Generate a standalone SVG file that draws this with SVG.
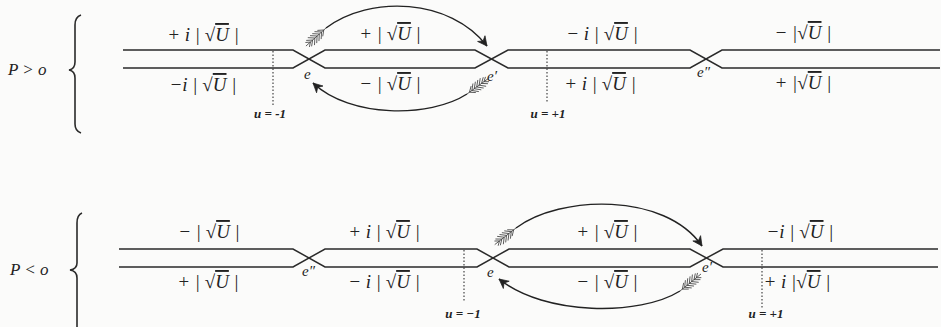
<svg xmlns="http://www.w3.org/2000/svg" xmlns:xlink="http://www.w3.org/1999/xlink" width="941" height="327" viewBox="0 0 941 327">
<style>
.bg{fill:#fbfbfa}
.ln{fill:none;stroke:#2a2a2a;stroke-width:1.5}
.dot{fill:none;stroke:#333;stroke-width:1.1;stroke-dasharray:1.5 2}
.br{fill:none;stroke:#2a2a2a;stroke-width:1.6}
.arc{fill:none;stroke:#222;stroke-width:1.4}
text{font-family:'Liberation Serif','DejaVu Serif','Times New Roman',serif;font-style:italic;fill:#222}
.lab{font-size:19px;text-anchor:middle}
.ov{text-decoration:overline}
.pt{font-size:15px}
.u{font-weight:bold;font-size:13px;text-anchor:middle}
.P{font-size:17px}
.fb{stroke:#444;stroke-width:0.8;fill:none}
</style>
<defs>
<marker id="ah" markerUnits="userSpaceOnUse" markerWidth="14" markerHeight="14" refX="0" refY="0" viewBox="-10 -6 11 12" orient="auto">
<path d="M-8,-4 L0,0 L-8,4 L-5.5,0 Z" fill="#222" stroke="#222" stroke-width="0.6"/>
</marker>
<g id="feather" class="fb">
<line x1="0" y1="0" x2="27" y2="0"/>
<path d="M3,0 l5,-4 M3,0 l5,4 M6,0 l5,-5 M6,0 l5,5 M9,0 l5,-5 M9,0 l5,5 M12,0 l5,-5 M12,0 l5,5 M15,0 l5,-5 M15,0 l5,5 M18,0 l5,-4 M18,0 l5,4 M21,0 l4,-3 M21,0 l4,3"/>
</g>
</defs>
<rect class="bg" x="0" y="0" width="941" height="327"/>

<g id="top-case">
<text class="P" x="8" y="75">P &gt; o</text>
<path class="br" d="M81 15 Q75 17 75 25 L75 62 Q75 69 69 70 Q75 71 75 78 L75 124 Q75 131 81 133"/>
</g>

<g id="top-lines">
<path class="ln" d="M123 50 H293 L325 68 H475 L508 50 H690 L722 68 H940"/>
<path class="ln" d="M123 68 H293 L325 50 H475 L508 68 H690 L722 50 H940"/>
<line class="dot" x1="273" y1="51" x2="273" y2="105"/>
<line class="dot" x1="547" y1="51" x2="547" y2="103"/>
<text class="u" x="270" y="118">u = -1</text>
<text class="u" x="548" y="118">u = +1</text>
</g>

<g id="top-labels">
<text class="lab" x="203" y="41">+ i | √<tspan class="ov">U</tspan> |</text>
<text class="lab" x="203" y="91">−i | √<tspan class="ov">U</tspan> |</text>
<text class="lab" x="390" y="40">+ | √<tspan class="ov">U</tspan> |</text>
<text class="lab" x="390" y="90">− | √<tspan class="ov">U</tspan> |</text>
<text class="lab" x="602" y="40">− i | √<tspan class="ov">U</tspan> |</text>
<text class="lab" x="600" y="90">+ i | √<tspan class="ov">U</tspan> |</text>
<text class="lab" x="803" y="39">− |√<tspan class="ov">U</tspan> |</text>
<text class="lab" x="803" y="89">+ |√<tspan class="ov">U</tspan> |</text>
</g>

<g id="node-top-e"><text class="pt" x="304" y="79">e</text></g>
<g id="node-top-e1"><text class="pt" x="487" y="81">e′</text></g>
<g id="node-top-e2"><text class="pt" x="697" y="77">e″</text></g>

<g id="bottom-case">
<text class="P" x="10" y="275">P &lt; o</text>
<path class="br" d="M82 213 Q77 215 77 223 L77 263 Q77 269 70 270 Q77 271 77 278 L77 327"/>
</g>

<g id="bottom-lines">
<path class="ln" d="M119 249 H293 L325 267 H477 L509 249 H690 L723 267 H938"/>
<path class="ln" d="M119 267 H293 L325 249 H477 L509 267 H690 L723 249 H938"/>
<line class="dot" x1="464" y1="250" x2="464" y2="302"/>
<line class="dot" x1="762" y1="250" x2="762" y2="308"/>
<text class="u" x="463" y="318">u = −1</text>
<text class="u" x="766" y="318">u = +1</text>
</g>

<g id="bottom-labels">
<text class="lab" x="209" y="238">− | √<tspan class="ov">U</tspan> |</text>
<text class="lab" x="208" y="288">+ | √<tspan class="ov">U</tspan> |</text>
<text class="lab" x="384" y="238">+ i | √<tspan class="ov">U</tspan> |</text>
<text class="lab" x="384" y="288">− i | √<tspan class="ov">U</tspan> |</text>
<text class="lab" x="607" y="238">+ | √<tspan class="ov">U</tspan> |</text>
<text class="lab" x="607" y="288">− | √<tspan class="ov">U</tspan> |</text>
<text class="lab" x="800" y="238">−i | √<tspan class="ov">U</tspan> |</text>
<text class="lab" x="797" y="288">+ i |√<tspan class="ov">U</tspan> |</text>
</g>

<g id="node-bot-e2"><text class="pt" x="302" y="276">e″</text></g>
<g id="node-bot-e"><text class="pt" x="487" y="277">e</text></g>
<g id="node-bot-e1"><text class="pt" x="702" y="272">e′</text></g>

<g id="connectors">
<path class="arc" d="M326 28 C370 -5 450 -2 487 46" marker-end="url(#ah)"/>
<path class="arc" d="M467 94 C430 118 350 118 313 83" marker-end="url(#ah)"/>
<path class="arc" d="M516 228 C560 195 665 192 702 246" marker-end="url(#ah)"/>
<path class="arc" d="M680 291 C640 316 545 316 499 279" marker-end="url(#ah)"/>
<use xlink:href="#feather" transform="translate(326,28) rotate(138)"/>
<use xlink:href="#feather" transform="translate(467,94) rotate(-36)"/>
<use xlink:href="#feather" transform="translate(516,228) rotate(142)"/>
<use xlink:href="#feather" transform="translate(680,291) rotate(-39)"/>
</g>
</svg>
